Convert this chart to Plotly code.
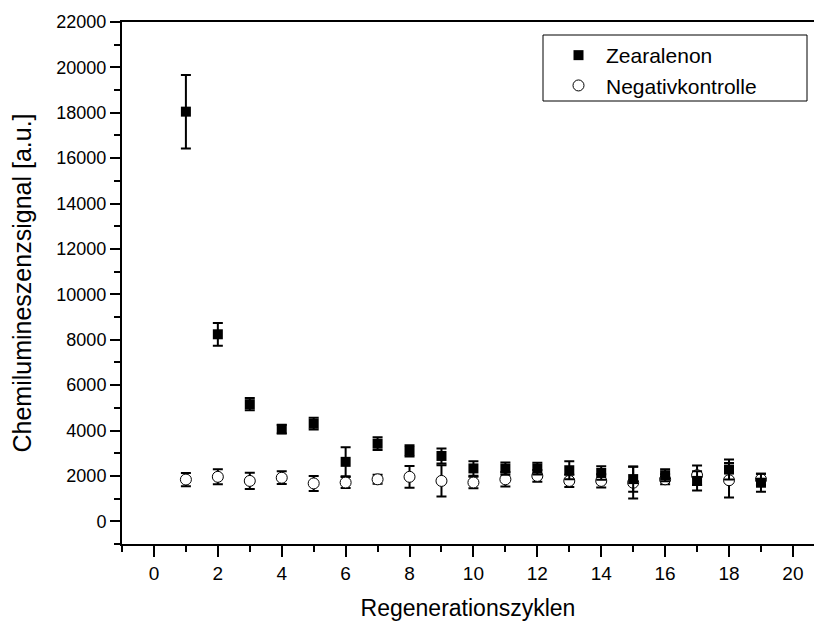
import plotly.graph_objects as go

# Regeneration cycles and measured chemiluminescence signals (mean ± SD)
cycles = list(range(1, 20))

zea_mean = [18050, 8240, 5160, 4060, 4300, 2620, 3420, 3100, 2880, 2330,
            2320, 2320, 2250, 2130, 1860, 2030, 1780, 2280, 1700]
zea_err = [1620, 500, 270, 190, 260, 640, 280, 250, 330, 320,
           270, 260, 400, 300, 560, 260, 420, 440, 400]

neg_mean = [1840, 1960, 1780, 1920, 1670, 1710, 1850, 1960, 1780, 1710,
            1850, 2000, 1780, 1780, 1700, 1850, 2030, 1810, 1850]
neg_err = [290, 330, 360, 280, 330, 240, 200, 480, 690, 250,
           320, 260, 270, 290, 700, 220, 430, 760, 250]

x_ticks = list(range(0, 21, 2))
y_ticks = list(range(0, 22001, 2000))

FONT = "Liberation Sans, Arial, sans-serif"

fig = go.Figure()

# negative control first so the filled squares sit on top
fig.add_trace(go.Scatter(
    x=cycles, y=neg_mean, mode="markers", name="Negativkontrolle",
    legendrank=2,
    marker=dict(symbol="circle", size=11, color="white",
                line=dict(color="black", width=1)),
    error_y=dict(type="data", array=neg_err, visible=True,
                 color="black", thickness=2, width=5),
))
fig.add_trace(go.Scatter(
    x=cycles, y=zea_mean, mode="markers", name="Zearalenon",
    legendrank=1,
    marker=dict(symbol="square", size=10, color="black",
                line=dict(color="black", width=0)),
    error_y=dict(type="data", array=zea_err, visible=True,
                 color="black", thickness=2, width=5),
))

# legend frame
fig.add_shape(type="rect", xref="paper", yref="paper",
              x0=(543 - 122) / 692, x1=(807 - 122) / 692,
              y0=(544 - 101) / 522, y1=(544 - 35) / 522,
              line=dict(color="black", width=1), fillcolor="rgba(0,0,0,0)")

fig.update_layout(
    width=814, height=621,
    margin=dict(l=122, r=0, t=22, b=77),
    plot_bgcolor="white", paper_bgcolor="white",
    font=dict(family=FONT, color="black"),
    showlegend=True,
    legend=dict(
        x=(543 - 122) / 692, y=(544 - 35) / 522,
        xanchor="left", yanchor="top",
        bgcolor="rgba(0,0,0,0)", borderwidth=0,
        font=dict(size=21, family=FONT),
        itemwidth=45, indentation=8,
        tracegroupgap=0,
    ),
    xaxis=dict(
        range=[-1, 20.66],
        tickmode="array", tickvals=x_ticks, ticktext=[str(v) for v in x_ticks],
        ticks="outside", ticklen=11, tickwidth=2, tickcolor="black",
        minor=dict(dtick=1, tick0=0, ticks="outside", ticklen=6,
                   tickwidth=2, tickcolor="black"),
        showline=True, linecolor="black", linewidth=2, mirror=True,
        showgrid=False, zeroline=False,
        tickfont=dict(size=19, family=FONT),
        title=dict(text="Regenerationszyklen", font=dict(size=23, family=FONT),
                   standoff=18),
    ),
    yaxis=dict(
        range=[-1000, 22000],
        tickmode="array", tickvals=y_ticks, ticktext=[str(v) for v in y_ticks],
        ticks="outside", ticklen=10, tickwidth=2, tickcolor="black",
        minor=dict(dtick=1000, tick0=0, ticks="outside", ticklen=6,
                   tickwidth=2, tickcolor="black"),
        showline=True, linecolor="black", linewidth=2, mirror=False,
        showgrid=False, zeroline=False,
        tickfont=dict(size=18, family=FONT),
        title=dict(text="Chemilumineszenzsignal [a.u.]",
                   font=dict(size=25, family=FONT), standoff=18),
    ),
)

fig.write_html("out.html")
